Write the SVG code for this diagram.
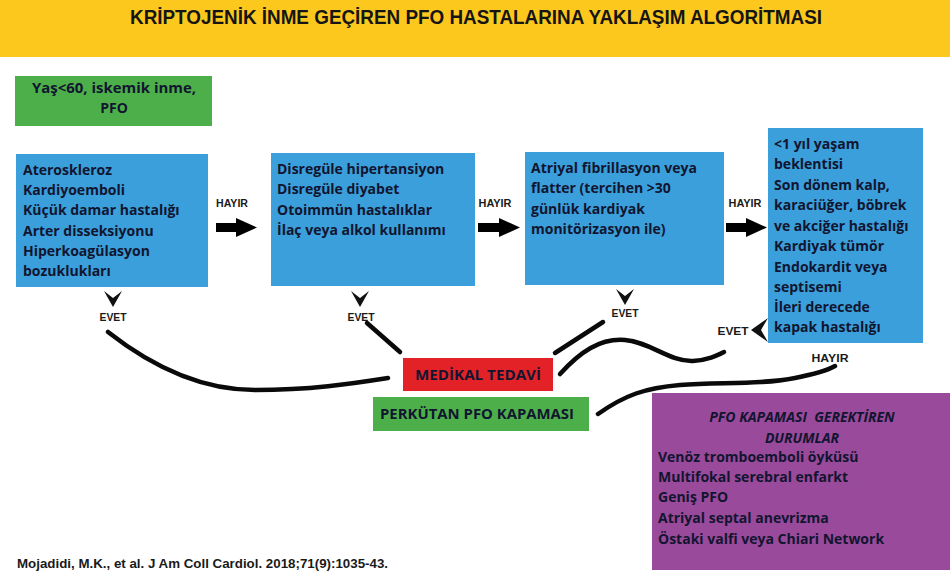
<svg xmlns="http://www.w3.org/2000/svg" width="950" height="573" viewBox="0 0 950 573">
<defs>
<style>
.box{font-family:"Open Sans","Liberation Sans",sans-serif;font-weight:700;font-size:14px;fill:#121530}
.lbl{font-family:"Liberation Sans",sans-serif;font-weight:700;font-size:10px;fill:#1a1a1a}
.cv{fill:#111}
.ln{fill:none;stroke:#0a0a0a;stroke-width:4.5;stroke-linecap:round}
</style>
</defs>
<rect width="950" height="573" fill="#ffffff"/>
<g id="title">
<rect x="0" y="0" width="950" height="57" fill="#FCC81E"/>
<text x="476" y="24" text-anchor="middle" font-family="Liberation Sans,sans-serif" font-weight="700" font-size="20" fill="#151515" textLength="692" lengthAdjust="spacingAndGlyphs">KRİPTOJENİK İNME GEÇİREN PFO HASTALARINA YAKLAŞIM ALGORİTMASI</text>
</g>
<g id="start">
<rect x="15" y="76" width="197" height="50" fill="#4DAF4A"/>
<text class="box" x="114" y="93" text-anchor="middle" textLength="164" lengthAdjust="spacingAndGlyphs" fill="#102010">Yaş&lt;60, iskemik inme,</text>
<text class="box" x="114" y="113" text-anchor="middle" fill="#102010">PFO</text>
</g>
<g id="box1">
<rect x="16" y="154" width="192" height="133" fill="#3A9FDA"/>
<text class="box" x="23" y="175">Ateroskleroz</text>
<text class="box" x="23" y="195">Kardiyoemboli</text>
<text class="box" x="23" y="215">Küçük damar hastalığı</text>
<text class="box" x="23" y="236">Arter disseksiyonu</text>
<text class="box" x="23" y="256">Hiperkoagülasyon</text>
<text class="box" x="23" y="276">bozuklukları</text>
</g>
<g id="box2">
<rect x="271" y="153" width="204" height="133" fill="#3A9FDA"/>
<text class="box" x="277" y="174">Disregüle hipertansiyon</text>
<text class="box" x="277" y="194">Disregüle diyabet</text>
<text class="box" x="277" y="215">Otoimmün hastalıklar</text>
<text class="box" x="277" y="235">İlaç veya alkol kullanımı</text>
</g>
<g id="box3">
<rect x="525" y="152" width="199" height="133" fill="#3A9FDA"/>
<text class="box" x="531" y="173">Atriyal fibrillasyon veya</text>
<text class="box" x="531" y="193">flatter (tercihen &gt;30</text>
<text class="box" x="531" y="214">günlük kardiyak</text>
<text class="box" x="531" y="234">monitörizasyon ile)</text>
</g>
<g id="box4">
<rect x="768" y="128" width="155" height="215" fill="#3A9FDA"/>
<text class="box" x="774" y="149">&lt;1 yıl yaşam</text>
<text class="box" x="774" y="169">beklentisi</text>
<text class="box" x="774" y="190">Son dönem kalp,</text>
<text class="box" x="774" y="210">karaciüğer, böbrek</text>
<text class="box" x="774" y="231">ve akciğer hastalığı</text>
<text class="box" x="774" y="251">Kardiyak tümör</text>
<text class="box" x="774" y="272">Endokardit veya</text>
<text class="box" x="774" y="292">septisemi</text>
<text class="box" x="774" y="312">İleri derecede</text>
<text class="box" x="774" y="332">kapak hastalığı</text>
</g>
<g id="medical">
<rect x="403" y="358" width="150" height="33" fill="#E32227"/>
<text class="box" x="478" y="380" text-anchor="middle" font-size="15" fill="#2a0808" textLength="126" lengthAdjust="spacingAndGlyphs">MEDİKAL TEDAVİ</text>
</g>
<g id="closure">
<rect x="373" y="397" width="216" height="34" fill="#4DAF4A"/>
<text class="box" x="380" y="419" font-size="15" fill="#102010" textLength="194" lengthAdjust="spacingAndGlyphs">PERKÜTAN PFO KAPAMASI</text>
</g>
<g id="indications">
<rect x="652" y="393" width="298" height="177" fill="#994A9A"/>
<text class="box" x="802" y="422" text-anchor="middle" font-style="italic" fill="#1a0a1a" xml:space="preserve">PFO KAPAMASI  GEREKTİREN</text>
<text class="box" x="802" y="443" text-anchor="middle" font-style="italic" fill="#1a0a1a">DURUMLAR</text>
<text class="box" x="658" y="462" fill="#1a0a1a">Venöz tromboemboli öyküsü</text>
<text class="box" x="658" y="482" fill="#1a0a1a">Multifokal serebral enfarkt</text>
<text class="box" x="658" y="502" fill="#1a0a1a">Geniş PFO</text>
<text class="box" x="658" y="523" fill="#1a0a1a">Atriyal septal anevrizma</text>
<text class="box" x="658" y="544" fill="#1a0a1a">Östaki valfi veya Chiari Network</text>
</g>
<g id="connectors">
<rect x="216" y="223" width="23" height="9" fill="#000"/>
<polygon points="236,218 257,227.5 236,237" fill="#000"/>
<rect x="478" y="223" width="23" height="9" fill="#000"/>
<polygon points="499,218 520,227.5 499,237" fill="#000"/>
<rect x="726" y="223" width="22" height="9" fill="#000"/>
<polygon points="746,218 767,227.5 746,237" fill="#000"/>
<text class="lbl" x="232" y="207" text-anchor="middle" textLength="32" lengthAdjust="spacingAndGlyphs">HAYIR</text>
<text class="lbl" x="495" y="207" text-anchor="middle" textLength="33" lengthAdjust="spacingAndGlyphs">HAYIR</text>
<text class="lbl" x="745" y="207" text-anchor="middle" textLength="33" lengthAdjust="spacingAndGlyphs">HAYIR</text>
<path class="cv" d="M104,291 L113,307 L122,291 L113,298 Z"/>
<path class="cv" d="M351,291 L360,307 L369,291 L360,298 Z"/>
<path class="cv" d="M616,289 L625,305 L634,289 L625,296 Z"/>
<path class="cv" d="M768,318 L751,330 L768,342 L761,330 Z"/>
<text class="lbl" x="113" y="321" text-anchor="middle" textLength="27" lengthAdjust="spacingAndGlyphs">EVET</text>
<text class="lbl" x="361" y="321" text-anchor="middle" textLength="27" lengthAdjust="spacingAndGlyphs">EVET</text>
<text class="lbl" x="625" y="317" text-anchor="middle" textLength="27" lengthAdjust="spacingAndGlyphs">EVET</text>
<text class="lbl" x="733" y="335" text-anchor="middle" font-size="12" textLength="31" lengthAdjust="spacingAndGlyphs">EVET</text>
<text class="lbl" x="830" y="362" text-anchor="middle" font-size="12" textLength="37" lengthAdjust="spacingAndGlyphs">HAYIR</text>
<path class="ln" d="M108,332 C150,365 200,390 255,390 C310,390 350,384 388,378"/>
<path class="ln" d="M367,323 L400,352"/>
<path class="ln" d="M603,322 L555,353"/>
<path class="ln" d="M560,374 C580,352 600,338 625,340 C650,342 670,362 693,361 C708,360 716,356 724,352"/>
<path class="ln" d="M598,414 C625,395 645,388 680,385 C720,382 760,385 795,378 C815,374 828,370 835,366"/>
</g>
<g id="citation">
<text x="17" y="568" font-family="Liberation Sans,sans-serif" font-weight="700" font-size="13" fill="#1a1a1a" textLength="371" lengthAdjust="spacingAndGlyphs">Mojadidi, M.K., et al. J Am Coll Cardiol. 2018;71(9):1035-43.</text>
</g>
</svg>
